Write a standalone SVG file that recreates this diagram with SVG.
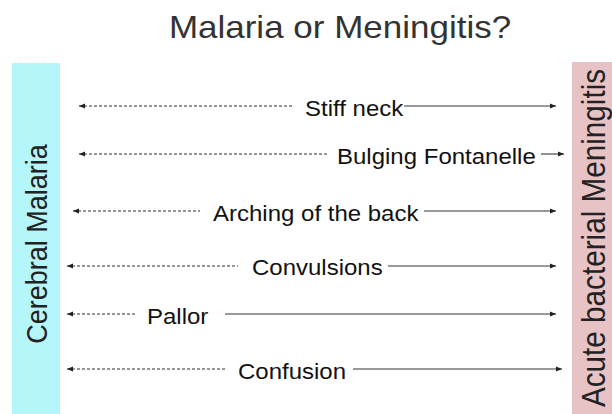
<svg xmlns="http://www.w3.org/2000/svg" width="612" height="414" viewBox="0 0 612 414">
<style>
text{font-family:"Liberation Sans",Arial,sans-serif}
.title{font-size:35px;fill:#333;text-anchor:middle}
.lbl{font-size:24px;fill:#111}
.side{font-size:30px;fill:#222;text-anchor:middle}
.side2{font-size:33px}
.dash{stroke:#777;stroke-width:1.3;stroke-dasharray:3,2;fill:none}
.solid{stroke:#777;stroke-width:1.6;fill:none}
</style>
<defs>
<marker id="ah" viewBox="0 0 6 6" refX="6" refY="3" markerWidth="6" markerHeight="6" markerUnits="userSpaceOnUse" orient="auto-start-reverse">
<path d="M0,0.5 L6,3 L0,5.5 z" fill="#222"/>
</marker>
</defs>
<rect width="612" height="414" fill="#fff"/>
<g id="title"><text class="title" transform="translate(340,38) scale(1,0.9)">Malaria or Meningitis?</text></g>
<g id="cerebral-malaria">
<rect x="12" y="63" width="48" height="351" fill="#b5f6fa"/>
<text class="side" transform="translate(47,244) scale(1,0.9) rotate(-90)">Cerebral Malaria</text>
</g>
<g id="acute-bacterial-meningitis">
<rect x="572" y="62" width="40" height="352" fill="#e8c3c6"/>
<text class="side side2" transform="translate(605,238) scale(1,0.9) rotate(-90)">Acute bacterial Meningitis</text>
</g>
<g id="connectors">
<line class="dash" x1="79" y1="106" x2="293" y2="106" marker-start="url(#ah)"/>
<line class="solid" x1="404" y1="106" x2="556" y2="106" marker-end="url(#ah)"/>
<line class="dash" x1="79" y1="154" x2="327" y2="154" marker-start="url(#ah)"/>
<line class="solid" x1="541" y1="154" x2="564" y2="154" marker-end="url(#ah)"/>
<line class="dash" x1="73" y1="211" x2="200" y2="211" marker-start="url(#ah)"/>
<line class="solid" x1="424" y1="211" x2="556" y2="211" marker-end="url(#ah)"/>
<line class="dash" x1="67" y1="266" x2="238" y2="266" marker-start="url(#ah)"/>
<line class="solid" x1="388" y1="266" x2="556" y2="266" marker-end="url(#ah)"/>
<line class="dash" x1="67" y1="314" x2="136" y2="314" marker-start="url(#ah)"/>
<line class="solid" x1="225" y1="314" x2="556" y2="314" marker-end="url(#ah)"/>
<line class="dash" x1="67" y1="369" x2="226" y2="369" marker-start="url(#ah)"/>
<line class="solid" x1="353" y1="369" x2="562" y2="369" marker-end="url(#ah)"/>
</g>
<g id="stiff-neck"><text class="lbl" transform="translate(305,116) scale(1,0.9)">Stiff neck</text></g>
<g id="bulging-fontanelle"><text class="lbl" transform="translate(337,164) scale(1,0.9)">Bulging Fontanelle</text></g>
<g id="arching"><text class="lbl" transform="translate(213,221) scale(1,0.9)">Arching of the back</text></g>
<g id="convulsions"><text class="lbl" transform="translate(252,275) scale(1,0.9)">Convulsions</text></g>
<g id="pallor"><text class="lbl" transform="translate(147,324) scale(1,0.9)">Pallor</text></g>
<g id="confusion"><text class="lbl" transform="translate(238,379) scale(1,0.9)">Confusion</text></g>
</svg>
